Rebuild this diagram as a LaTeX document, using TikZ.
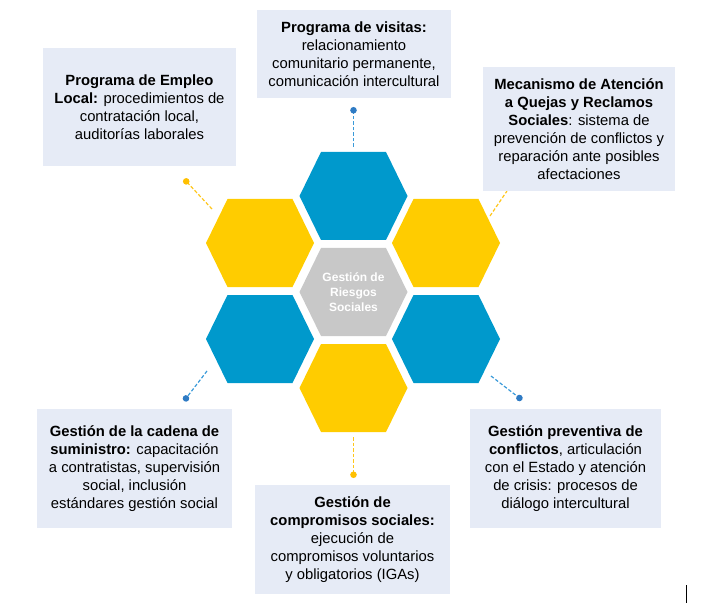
\documentclass[tikz,border=0pt]{standalone}
\usepackage{fontspec}
\setmainfont{Liberation Sans}
\usetikzlibrary{arrows.meta}

\definecolor{azulhex}{HTML}{0099CC}
\definecolor{amarillohex}{HTML}{FFCC00}
\definecolor{grishex}{HTML}{C8C8C8}
\definecolor{fondocaja}{HTML}{E6EBF6}
\definecolor{lineaazul}{HTML}{3A9AD9}
\definecolor{puntoazul}{HTML}{2F7BC4}
\definecolor{lineaamarilla}{HTML}{FFC61A}
\definecolor{puntoamarillo}{HTML}{FFC000}

% hexagono: centro x, centro y, color
\newcommand{\hexcelda}[3]{\fill[#3] (#1,#2) ++(-54,0) -- ++(21.5,-44) -- ++(65,0) -- ++(21.5,44) -- ++(-21.5,44) -- ++(-65,0) -- cycle;}

\tikzset{
    caja/.style={fill=fondocaja, align=center, inner sep=0pt, font=\fontsize{14.8}{18}\selectfont},
    linea azul/.style={lineaazul, line width=1.2pt, dash pattern=on 3.5pt off 2pt},
    linea amarilla/.style={lineaamarilla, line width=1.2pt, dash pattern=on 3.5pt off 2pt},
    punto azul/.style={-{Circle[length=6.5pt, color=puntoazul]}},
    punto amarillo/.style={-{Circle[length=6.5pt, color=puntoamarillo]}}
}

\begin{document}
\begin{tikzpicture}[x=1pt, y=-1pt]
    \useasboundingbox (0,0) rectangle (705,615);

    % hexagonos
    \hexcelda{353.5}{196}{azulhex}
    \hexcelda{260}{243}{amarillohex}
    \hexcelda{446}{243}{amarillohex}
    \hexcelda{353.5}{292}{grishex}
    \hexcelda{260}{339}{azulhex}
    \hexcelda{446}{339}{azulhex}
    \hexcelda{353.5}{388}{amarillohex}

    \node[text=white, align=center, font=\fontsize{12}{15}\selectfont\bfseries] (centro) at (353.5,292) {Gesti\'on de\\ Riesgos\\ Sociales};

    % extremos de los conectores
    \coordinate (visitas-hex) at (353.5,147);
    \coordinate (visitas-punto) at (353.5,107);
    \coordinate (empleo-hex) at (212,209);
    \coordinate (empleo-punto) at (184,179);
    \coordinate (quejas-hex) at (490,216);
    \coordinate (quejas-borde) at (507,191);
    \coordinate (cadena-hex) at (207,371);
    \coordinate (cadena-punto) at (184,401);
    \coordinate (preventiva-hex) at (491,376);
    \coordinate (preventiva-punto) at (522,400);
    \coordinate (compromisos-hex) at (353.5,437);
    \coordinate (compromisos-punto) at (353.5,478);

    \draw[linea azul, punto azul] (visitas-hex) -- (visitas-punto);
    \draw[linea amarilla, punto amarillo] (empleo-hex) -- (empleo-punto);
    \draw[linea amarilla] (quejas-hex) -- (quejas-borde);
    \draw[linea azul, punto azul] (cadena-hex) -- (cadena-punto);
    \draw[linea azul, punto azul] (preventiva-hex) -- (preventiva-punto);
    \draw[linea amarilla, punto amarillo] (compromisos-hex) -- (compromisos-punto);

    % cajas de texto
    \node[caja, minimum width=194pt, minimum height=88pt] (visitas) at (354,54) {\textbf{Programa de visitas:}\\ relacionamiento\\ comunitario permanente,\\ comunicaci\'on intercultural};

    \node[caja, minimum width=193pt, minimum height=118pt] (empleo) at (139.5,107) {\textbf{Programa de Empleo}\\ \textbf{Local:} procedimientos de\\ contrataci\'on local,\\ auditor\'ias laborales};

    \node[caja, minimum width=192pt, minimum height=124pt] (quejas) at (579,129) {\textbf{Mecanismo de Atenci\'on}\\ \textbf{a Quejas y Reclamos}\\ \textbf{Sociales}: sistema de\\ prevenci\'on de conflictos y\\ reparaci\'on ante posibles\\ afectaciones};

    \node[caja, minimum width=195pt, minimum height=119pt] (cadena) at (134.5,468.5) {\textbf{Gesti\'on de la cadena de}\\ \textbf{suministro:} capacitaci\'on\\ a contratistas, supervisi\'on\\ social, inclusi\'on\\ est\'andares gesti\'on social};

    \node[caja, minimum width=195pt, minimum height=109pt] (compromisos) at (352.5,539.5) {\textbf{Gesti\'on de}\\ \textbf{compromisos sociales:}\\ ejecuci\'on de\\ compromisos voluntarios\\ y obligatorios (IGAs)};

    \node[caja, minimum width=191pt, minimum height=119pt] (preventiva) at (565.5,468.5) {\textbf{Gesti\'on preventiva de}\\ \textbf{conflictos}, articulaci\'on\\ con el Estado y atenci\'on\\ de crisis: procesos de\\ di\'alogo intercultural};

    % marca vertical abajo a la derecha
    \draw[black, line width=1pt] (686,585) -- (686,603);
\end{tikzpicture}
\end{document}
